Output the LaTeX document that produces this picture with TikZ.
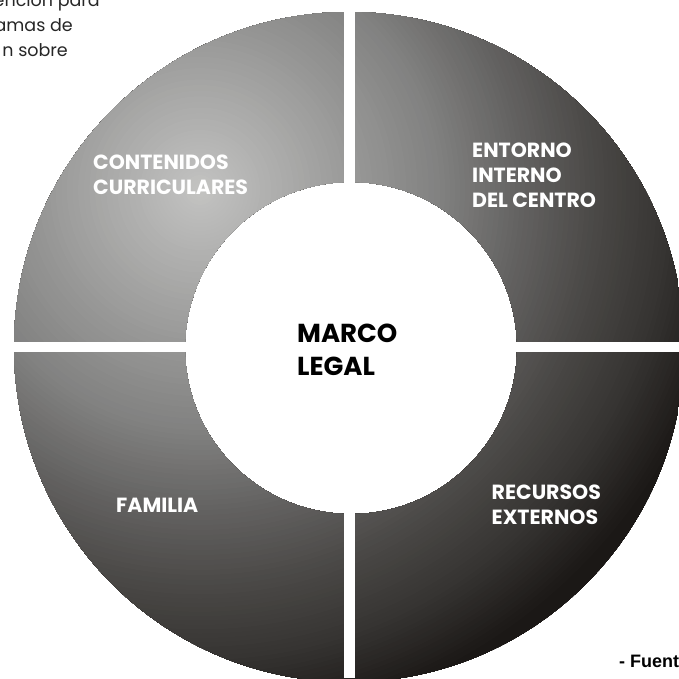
\documentclass[tikz,border=0pt]{standalone}
\usepackage{fontspec}
\setmainfont{Poppins}
\newfontfamily\srcfont{Liberation Sans}
\definecolor{g0}{HTML}{C4C4C2}
\definecolor{g1}{HTML}{B3B3B2}
\definecolor{g2}{HTML}{9A9A99}
\definecolor{g3}{HTML}{828281}
\definecolor{g4}{HTML}{646362}
\definecolor{g5}{HTML}{4A4846}
\definecolor{g6}{HTML}{363432}
\definecolor{g7}{HTML}{1B1816}
\definecolor{g8}{HTML}{1E1B19}
\newcommand\ringband[4]{%
  \foreach \i in {0,...,15}{%
    \pgfmathsetmacro\rr{#1-(#1-#2)*\i/16}%
    \pgfmathtruncatemacro\pp{100*\i/16}%
    \fill[#4!\pp!#3] (200,190) circle[radius=\rr pt];
  }}
\tikzset{
  seglabel/.style={anchor=west, inner sep=0pt, align=left, text=white,
    font=\fontsize{20.5}{25}\selectfont\bfseries},
  centerlabel/.style={anchor=west, inner sep=0pt, align=left, text=black,
    font=\fontsize{26}{33}\selectfont\bfseries},
  bodytext/.style={anchor=base east, inner sep=0pt, text=black!85,
    font=\fontsize{17.5}{25}\selectfont},
  srctext/.style={anchor=base west, inner sep=0pt, text=black,
    font=\srcfont\fontsize{18}{20}\selectfont\bfseries}
}
\begin{document}
\begin{tikzpicture}[x=1pt,y=-1pt]
\useasboundingbox (0,0) rectangle (679,678);
% ring with graded fill
\begin{scope}[even odd rule]
\clip (349,347) circle[radius=335pt] (351,348) circle[radius=166pt];
\ringband{720}{620}{g8}{g8}
\ringband{620}{540}{g8}{g7}
\ringband{540}{470}{g7}{g6}
\ringband{470}{400}{g6}{g5}
\ringband{400}{320}{g5}{g4}
\ringband{320}{240}{g4}{g3}
\ringband{240}{150}{g3}{g2}
\ringband{150}{60}{g2}{g1}
\ringband{60}{0}{g1}{g0}
\end{scope}
% white gaps
\fill[white] (343.5,0) rectangle (354.5,678);
\fill[white] (0,342) rectangle (679,352);
% labels
\node[seglabel] (cont) at (93,174.5) {CONTENIDOS\\CURRICULARES};
\node[seglabel] (ent) at (472,175) {ENTORNO\\INTERNO\\DEL CENTRO};
\node[seglabel] (fam) at (116,505) {FAMILIA};
\node[seglabel] (rec) at (491.5,505) {RECURSOS\\EXTERNOS};
\node[centerlabel] (marco) at (297,349.5) {MARCO\\LEGAL};
% cut text
\node[bodytext] (t1) at (100,6) {ención para};
\node[bodytext] (t2) at (73,31) {amas de};
\node[bodytext] (t3) at (68,56) {n sobre};
\node[srctext] (src) at (619,667) {- Fuent};
\end{tikzpicture}
\end{document}
